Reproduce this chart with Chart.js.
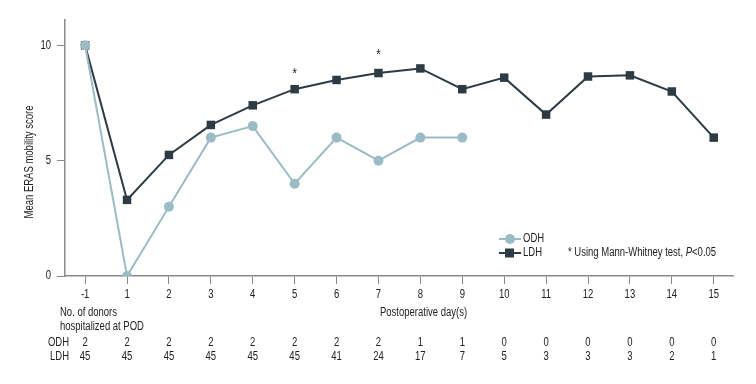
<!DOCTYPE html>
<html>
<head>
<meta charset="utf-8">
<script src="https://cdn.jsdelivr.net/npm/chart.js@4"></script>
<style>
html,body{margin:0;padding:0;background:#fff;}
#wrap{width:756px;height:384px;position:relative;}
</style>
</head>
<body>
<div id="wrap"><canvas id="c" width="756" height="384"></canvas></div>
<script>
const days = ['-1','1','2','3','4','5','6','7','8','9','10','11','12','13','14','15'];
const odhScore = [10, 0, 3.0, 6.0, 6.5, 4.0, 6.0, 5.0, 6.0, 6.0];
const ldhScore = [10, 3.3, 5.25, 6.55, 7.4, 8.1, 8.5, 8.8, 9.0, 8.1, 8.6, 7.0, 8.65, 8.7, 8.0, 6.0];
const odhCount = [2,2,2,2,2,2,2,2,1,1,0,0,0,0,0,0];
const ldhCount = [45,45,45,45,45,45,41,24,17,7,5,3,3,3,2,1];
const yTicks = [0, 5, 10];
const sigDays = ['5', '7'];
const sigHeights = [8.9, 9.7];

const FONT = '"Liberation Sans", Arimo, Arial, sans-serif';
const SQUEEZE = 0.76;
const ODH_COLOR = '#9bbcc5';
const LDH_COLOR = '#2c3b44';
const AXIS_COLOR = '#8a8a8a';
const TEXT = '#222';

const toPts = arr => arr.map((v, i) => ({x: i, y: v}));

function txt(ctx, s, x, y, align, size, italic, rot) {
  ctx.save();
  ctx.translate(x, y);
  if (rot) ctx.rotate(rot);
  ctx.scale(SQUEEZE, 1);
  ctx.font = (italic ? 'italic ' : '') + size + 'px ' + FONT;
  ctx.textAlign = align;
  ctx.textBaseline = 'middle';
  ctx.fillText(s, 0, 0);
  const w = ctx.measureText(s).width * SQUEEZE;
  ctx.restore();
  return w;
}

const overlay = {
  id: 'overlay',
  afterDraw(chart) {
    const ctx = chart.ctx;
    const xs = chart.scales.x, ys = chart.scales.y;
    ctx.save();
    ctx.fillStyle = TEXT;
    // axis tick labels
    xs.ticks.forEach(t => txt(ctx, days[t.value], xs.getPixelForValue(t.value), 295, 'center', 12.5));
    ys.ticks.forEach(t => txt(ctx, String(t.value), 51, ys.getPixelForValue(t.value), 'right', 12.5));
    // y title
    txt(ctx, 'Mean ERAS mobility score', 30, (ys.top + ys.bottom) / 2 + 14, 'center', 12.5, false, -Math.PI / 2);
    // asterisks
    sigDays.forEach((d, i) => {
      txt(ctx, '*', xs.getPixelForValue(days.indexOf(d)), ys.getPixelForValue(sigHeights[i]) + 3, 'center', 15);
    });
    // table
    txt(ctx, 'No. of donors', 60, 313, 'left', 12.5);
    txt(ctx, 'hospitalized at POD', 60, 327, 'left', 12.5);
    txt(ctx, 'Postoperative day(s)', 380, 313, 'left', 12.5);
    txt(ctx, 'ODH', 69, 343, 'right', 12.5);
    txt(ctx, 'LDH', 69, 357, 'right', 12.5);
    days.forEach((d, i) => {
      const px = xs.getPixelForValue(i);
      txt(ctx, String(odhCount[i]), px, 343, 'center', 12.5);
      txt(ctx, String(ldhCount[i]), px, 357, 'center', 12.5);
    });
    // legend
    const ds = chart.data.datasets;
    const rows = [239, 253];
    ds.forEach((d, i) => {
      const y = rows[i];
      ctx.strokeStyle = d.borderColor;
      ctx.lineWidth = 2;
      ctx.beginPath(); ctx.moveTo(499, y); ctx.lineTo(521, y); ctx.stroke();
      ctx.fillStyle = d.backgroundColor;
      if (d.pointStyle === 'circle') {
        ctx.beginPath(); ctx.arc(510, y, 5, 0, Math.PI * 2); ctx.fill();
      } else {
        ctx.fillRect(505, y - 4.5, 9, 9);
      }
      ctx.fillStyle = TEXT;
      txt(ctx, d.label, 523, y, 'left', 12.5);
    });
    // footnote
    let x = 568;
    x += txt(ctx, '* Using Mann-Whitney test, ', x, 253, 'left', 12.5);
    x += txt(ctx, 'P', x, 253, 'left', 12.5, true);
    txt(ctx, '<0.05', x, 253, 'left', 12.5);
    ctx.restore();
  }
};

new Chart(document.getElementById('c'), {
  type: 'line',
  data: {
    datasets: [
      {
        label: 'ODH',
        data: toPts(odhScore),
        borderColor: ODH_COLOR,
        backgroundColor: ODH_COLOR,
        borderWidth: 2,
        pointStyle: 'circle',
        pointRadius: 5,
        pointBorderWidth: 0,
        tension: 0
      },
      {
        label: 'LDH',
        data: toPts(ldhScore),
        borderColor: LDH_COLOR,
        backgroundColor: LDH_COLOR,
        borderWidth: 2,
        pointStyle: 'rect',
        pointRadius: 6,
        pointBorderWidth: 0,
        tension: 0
      }
    ]
  },
  options: {
    responsive: false,
    animation: false,
    layout: {padding: {left: 0, right: 23, top: 20, bottom: 0}},
    plugins: {legend: {display: false}, tooltip: {enabled: false}},
    scales: {
      x: {
        type: 'linear',
        min: -0.48,
        max: 15.46,
        afterBuildTicks(s) { s.ticks = days.map((d, i) => ({value: i})); },
        afterFit(s) { s.height = 108; },
        ticks: {display: false, autoSkip: false},
        grid: {drawOnChartArea: false, drawTicks: true, tickLength: 8, color: AXIS_COLOR, lineWidth: 1},
        border: {color: AXIS_COLOR, width: 1.5}
      },
      y: {
        min: 0,
        max: 11.1,
        afterBuildTicks(s) { s.ticks = yTicks.map(v => ({value: v})); },
        afterFit(s) { s.width = 65; },
        ticks: {display: false},
        grid: {drawOnChartArea: false, drawTicks: true, tickLength: 8, color: AXIS_COLOR, lineWidth: 1},
        border: {color: AXIS_COLOR, width: 1.5}
      }
    }
  },
  plugins: [overlay]
});
</script>
</body>
</html>
